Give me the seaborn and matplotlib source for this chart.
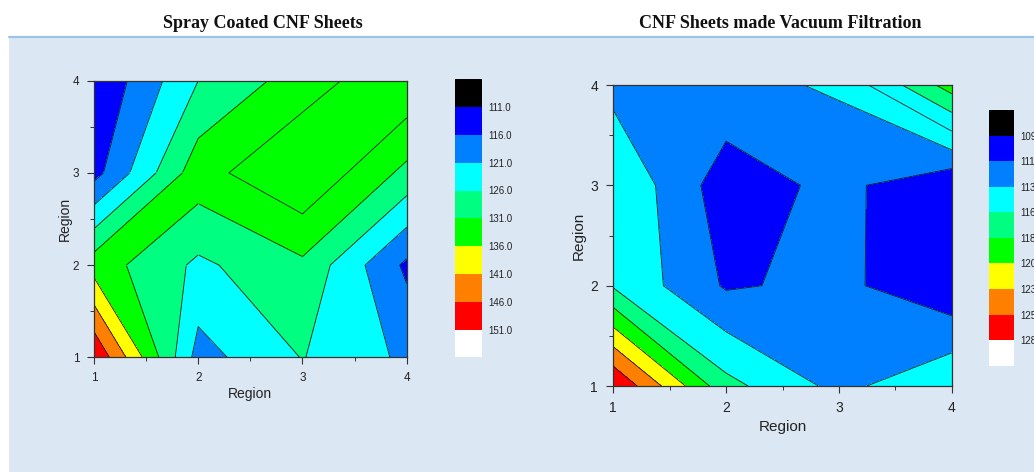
import numpy as np
import matplotlib
matplotlib.use("Agg")
import matplotlib.pyplot as plt
import matplotlib.tri as mtri
from matplotlib.colors import ListedColormap
from matplotlib.patches import Rectangle
from matplotlib.lines import Line2D
from matplotlib.ticker import MultipleLocator
import seaborn as sns

# ---------------------------------------------------------------- data
region = [1, 2, 3, 4]

# Spray coated sheets: one row per Region (y = 1..4), one column per Region (x = 1..4)
spray_z = [
    [150.7, 119.0, 126.2, 120.0],
    [133.7, 125.0, 130.0, 115.0],
    [114.2, 134.0, 140.8, 129.6],
    [111.3, 126.0, 133.5, 140.3],
]
spray_levels = [111.0, 116.0, 121.0, 126.0, 131.0, 136.0, 141.0, 146.0, 151.0]

# Vacuum filtered sheets
vacuum_z = [
    [128.0, 116.9, 113.1, 115.9],
    [115.9, 111.15, 112.0, 109.5],
    [116.0, 110.1, 112.1, 109.3],
    [113.05, 113.1, 114.1, 122.0],
]
vacuum_levels = [109.05, 111.42, 113.79, 116.16, 118.53, 120.90, 123.27, 125.64, 128.01]

titles = ["Spray Coated CNF Sheets", "CNF Sheets made Vacuum Filtration"]
axis_label = "Region"

# below first level, one colour per band, above last level
band_colors = ["#000000", "#0000FF", "#0080FF", "#00FFFF", "#00FF80",
               "#00FF00", "#FFFF00", "#FF8000", "#FF0000", "#FFFFFF"]

# ---------------------------------------------------------------- style
sns.set_style("ticks")
plt.rcParams["font.family"] = ["Liberation Sans", "DejaVu Sans"]

W, H = 1034, 472
fig = plt.figure(figsize=(W / 100, H / 100), dpi=100, facecolor="white")

panel_color = "#DCE7F4"
fig.patches.append(Rectangle((9 / W, 0), 1 - 9 / W, (H - 37) / H,
                             transform=fig.transFigure, facecolor=panel_color,
                             edgecolor="none", zorder=-10))
fig.lines.append(Line2D([9 / W, 1], [(H - 36.5) / H] * 2, transform=fig.transFigure,
                        color="#9DC3E6", lw=1.6, zorder=-9))

LINE_C = "#1a1a1a"
LINE_W = 0.6


def px_axes(l, t, r, b):
    ax = fig.add_axes([l / W, 1 - b / H, (r - l) / W, (b - t) / H])
    ax.set_zorder(1)
    return ax


def draw_map(ax, z, levels, shift_block=None, shift_from=None, saddle_cells=()):
    x = np.asarray(region, float)
    y = np.asarray(region, float)
    Z = np.asarray(z, float)
    full = [levels[0] - 100, *levels, levels[-1] + 100]

    ax.contourf(x, y, Z, levels=full, colors=band_colors, zorder=1)

    # corner plateau drawn one band lower
    if shift_block is not None:
        (c0, c1), (r0, r1) = shift_block
        k = levels.index(shift_from) + 1
        shifted = band_colors[:k] + band_colors[k - 1:-1]
        ax.contourf(x[c0:c1], y[r0:r1], Z[r0:r1, c0:c1], levels=full,
                    colors=shifted, zorder=1.1)

    ax.contour(x, y, Z, levels=levels, colors=LINE_C, linewidths=LINE_W, zorder=2)

    # saddle cells split along the rising diagonal
    for ci, rj in saddle_cells:
        xs = [x[ci], x[ci + 1], x[ci + 1], x[ci]]
        ys = [y[rj], y[rj], y[rj + 1], y[rj + 1]]
        zs = [Z[rj, ci], Z[rj, ci + 1], Z[rj + 1, ci + 1], Z[rj + 1, ci]]
        tri = mtri.Triangulation(xs, ys, triangles=[[0, 1, 2], [0, 2, 3]])
        ax.tricontourf(tri, zs, levels=full, colors=band_colors, zorder=2.1)
        ax.tricontour(tri, zs, levels=levels, colors=LINE_C, linewidths=LINE_W,
                      zorder=2.2)

    ax.set_xlim(1, 4)
    ax.set_ylim(1, 4)
    ax.xaxis.set_major_locator(MultipleLocator(1))
    ax.yaxis.set_major_locator(MultipleLocator(1))
    ax.xaxis.set_minor_locator(MultipleLocator(0.5))
    ax.yaxis.set_minor_locator(MultipleLocator(0.5))
    for s in ax.spines.values():
        s.set_visible(True)
        s.set_color("#333333")
        s.set_linewidth(0.9)
        s.set_zorder(5)


def style_axes(ax, tick_size, label_size, pad, xlab_y, ylab_x):
    ax.tick_params(which="major", direction="out", length=5, width=0.8,
                   color="#333333", labelcolor="#222222", labelsize=tick_size, pad=pad,
                   top=False, right=False)
    ax.tick_params(which="minor", direction="out", length=3, width=0.7,
                   color="#333333", top=False, right=False)
    ax.set_xlabel(axis_label, fontsize=label_size, color="#222222")
    ax.set_ylabel(axis_label, fontsize=label_size, color="#222222")
    ax.xaxis.label.set_va("center")
    ax.yaxis.label.set_va("center")
    ax.xaxis.set_label_coords(0.5, xlab_y)
    ax.yaxis.set_label_coords(ylab_x, 0.5)


def draw_colorbar(cax, levels, size):
    sns.heatmap(np.arange(len(band_colors)).reshape(-1, 1), ax=cax,
                cmap=ListedColormap(band_colors), vmin=-0.5,
                vmax=len(band_colors) - 0.5, cbar=False,
                xticklabels=False, yticklabels=False)
    cax.set_yticks(np.arange(1, len(levels) + 1))
    cax.set_yticklabels([f"{v:.1f}" for v in levels])
    cax.yaxis.tick_right()
    cax.tick_params(axis="y", length=0, pad=4.5, labelsize=size,
                    labelcolor="#222222", labelrotation=0)
    cax.set_xticks([])
    cax.set_ylabel("")
    cax.set_xlabel("")


# ---------------------------------------------------------------- left map
ax1 = px_axes(94, 80.7, 406.7, 357.3)
draw_map(ax1, spray_z, spray_levels, shift_block=((1, 4), (1, 4)),
         shift_from=136.0, saddle_cells=[(0, 1)])
style_axes(ax1, 8.5, 10, 5.5, -0.133, -0.093)

cax1 = px_axes(455.3, 79.3, 482, 357.3)
draw_colorbar(cax1, spray_levels, 7)

# ---------------------------------------------------------------- right map
ax2 = px_axes(613.3, 85, 951.7, 386)
draw_map(ax2, vacuum_z, vacuum_levels, shift_block=((2, 4), (2, 4)),
         shift_from=116.16)
style_axes(ax2, 10, 11, 6, -0.136, -0.101)

cax2 = px_axes(989.3, 110, 1014.3, 365.7)
draw_colorbar(cax2, vacuum_levels, 7)

# ---------------------------------------------------------------- titles
for cx, t in zip([263, 780], titles):
    fig.text(cx / W, 1 - 24 / H, t, ha="center", va="center",
             family=["Liberation Serif", "DejaVu Serif"], fontweight="bold",
             fontsize=13, color="#111111")

fig.savefig("out.png", dpi=100, facecolor="white")
